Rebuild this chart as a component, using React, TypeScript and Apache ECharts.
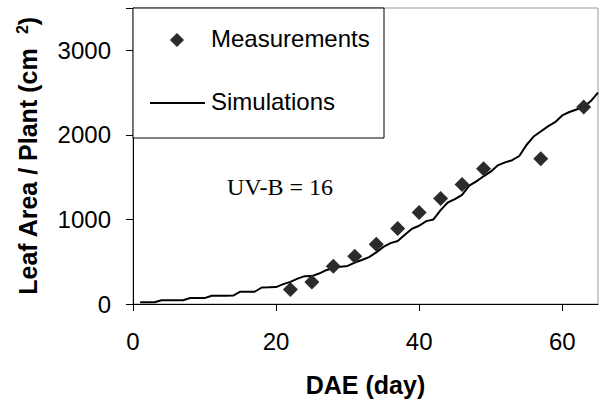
import React, { useEffect, useRef } from "react";
import * as echarts from "echarts";

const measDays = [22, 25, 28, 31, 34, 37, 40, 43, 46, 49, 57, 63];
const measValues = [170, 260, 447, 565, 706, 894, 1082, 1247, 1412, 1600, 1718, 2330];

const simDays = [
  1, 2, 3, 4, 5, 6, 7, 8, 9, 10, 11, 12, 13, 14, 15, 16, 17, 18, 19, 20, 21, 22,
  23, 24, 25, 26, 27, 28, 29, 30, 31, 32, 33, 34, 35, 36, 37, 38, 39, 40, 41, 42,
  43, 44, 45, 46, 47, 48, 49, 50, 51, 52, 53, 54, 55, 56, 57, 58, 59, 60, 61, 62,
  63, 64, 65,
];
const simValues = [
  20, 20, 20, 45, 45, 45, 45, 70, 70, 70, 98, 98, 98, 100, 145, 145, 145, 195,
  197, 200, 235, 262, 300, 329, 330, 360, 400, 425, 440, 450, 490, 520, 555, 610,
  675, 720, 745, 820, 890, 925, 980, 1000, 1110, 1200, 1240, 1290, 1400, 1450,
  1510, 1565, 1640, 1675, 1700, 1750, 1880, 1980, 2040, 2100, 2150, 2230, 2270,
  2300, 2330, 2400, 2500,
];

const xTicks = [0, 20, 40, 60];
const yTicks = [0, 1000, 2000, 3000];

const SANS = "'Liberation Sans', Arial, sans-serif";
const SERIF = "'Liberation Serif', 'Times New Roman', serif";

export default function App() {
  const ref = useRef<HTMLDivElement>(null);
  useEffect(() => {
    if (!ref.current) return;
    const chart = echarts.init(ref.current, undefined, { renderer: "svg" });
    chart.setOption({
      animation: false,
      backgroundColor: "#fff",
      grid: {
        left: 133,
        right: 6,
        top: 8,
        bottom: 100,
        show: true,
        borderColor: "#9a9a9a",
        borderWidth: 1,
      },
      xAxis: {
        type: "value",
        min: 0,
        max: 65,
        interval: 20,
        name: "DAE (day)",
        nameLocation: "middle",
        nameGap: 68,
        nameTextStyle: { fontFamily: SANS, fontSize: 25, fontWeight: "bold", color: "#000" },
        axisLine: { show: true, onZero: false, lineStyle: { color: "#000", width: 1 } },
        axisTick: { show: true, inside: false, length: 7, lineStyle: { color: "#000" } },
        axisLabel: {
          margin: 25,
          fontFamily: SANS,
          fontSize: 24,
          color: "#000",
          showMaxLabel: false,
          formatter: (v: number) => (xTicks.includes(v) ? String(v) : ""),
        },
        splitLine: { show: false },
      },
      yAxis: {
        type: "value",
        min: 0,
        max: 3500,
        interval: 1000,
        name: "Leaf Area / Plant (cm  {sup|2})",
        nameLocation: "middle",
        nameGap: 91,
        nameRotate: 90,
        nameTextStyle: {
          fontFamily: SANS,
          fontSize: 25,
          fontWeight: "bold",
          color: "#000",
          rich: {
            sup: {
              fontFamily: SANS,
              fontSize: 16,
              fontWeight: "bold",
              color: "#000",
              verticalAlign: "top",
              padding: [0, 0, 12, 0],
            },
          },
        },
        axisLine: { show: true, lineStyle: { color: "#000", width: 1 } },
        axisTick: { show: true, inside: false, length: 7, lineStyle: { color: "#000" } },
        axisLabel: {
          margin: 22,
          fontFamily: SANS,
          fontSize: 24,
          color: "#000",
          formatter: (v: number) => (yTicks.includes(v) ? String(v) : ""),
        },
        splitLine: { show: false },
      },
      series: [
        {
          name: "Simulations",
          type: "line",
          data: simDays.map((d, i) => [d, simValues[i]]),
          showSymbol: false,
          symbol: "none",
          lineStyle: { color: "#000", width: 2 },
          z: 2,
        },
        {
          name: "Measurements",
          type: "scatter",
          data: measDays.map((d, i) => [d, measValues[i]]),
          symbol: "diamond",
          symbolSize: [15, 15],
          itemStyle: { color: "#2b2b2b", opacity: 1 },
          z: 3,
        },
      ],
      graphic: [
        {
          type: "rect",
          shape: { x: 133, y: 8, width: 251, height: 130 },
          style: { fill: "#fff", stroke: "#000", lineWidth: 1 },
          z: 10,
        },
        {
          type: "rect",
          shape: { x: 172, y: 35, width: 10, height: 10 },
          rotation: Math.PI / 4,
          originX: 177,
          originY: 40,
          style: { fill: "#2b2b2b" },
          z: 11,
        },
        {
          type: "text",
          x: 211,
          y: 38,
          style: {
            text: "Measurements",
            fontFamily: SANS,
            fontSize: 24,
            fill: "#000",
            verticalAlign: "middle",
          },
          z: 11,
        },
        {
          type: "line",
          shape: { x1: 150, y1: 103, x2: 205, y2: 103 },
          style: { stroke: "#000", lineWidth: 2 },
          z: 11,
        },
        {
          type: "text",
          x: 211,
          y: 101,
          style: {
            text: "Simulations",
            fontFamily: SANS,
            fontSize: 24,
            fill: "#000",
            verticalAlign: "middle",
          },
          z: 11,
        },
        {
          type: "text",
          x: 227,
          y: 187,
          style: {
            text: "UV-B = 16",
            fontFamily: SERIF,
            fontSize: 24,
            fill: "#000",
            verticalAlign: "middle",
          },
          z: 11,
        },
      ],
    });
    return () => chart.dispose();
  }, []);
  return (
    <div
      ref={ref}
      style={{ position: "absolute", left: 0, top: 0, width: 604, height: 404 }}
    />
  );
}
